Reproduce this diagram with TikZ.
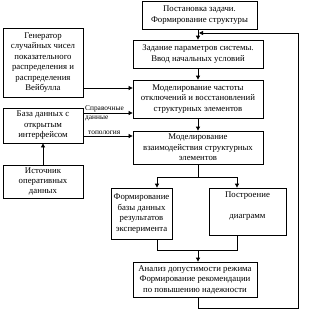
\documentclass[tikz,border=0pt]{standalone}
\usepackage{fontspec}
\setmainfont{Liberation Serif}
\usetikzlibrary{arrows.meta}
\begin{document}
\begin{tikzpicture}[x=1bp,y=-1bp,
  box/.style={draw,line width=0.8bp,inner sep=0pt,align=center,font=\fontsize{8.8}{10.5}\selectfont},
  arr/.style={line width=0.8bp,-{Triangle[length=4bp,width=4bp]}},
  ln/.style={line width=0.8bp},
  lbl/.style={font=\fontsize{7.4}{9}\selectfont,inner sep=0pt,align=left,anchor=west}]
\useasboundingbox (0,0) rectangle (310,315);
\node[box,minimum width=115bp,minimum height=28bp] (b1) at (199.5,15) {Постановка задачи.\\Формирование структуры};
\node[box,minimum width=130bp,minimum height=28bp] (b2) at (198,54) {Задание параметров системы.\\Ввод начальных условий};
\node[box,minimum width=130bp,minimum height=38bp] (b3) at (198,99) {Моделирование частоты\\отключений и восстановлений\\структурных элементов};
\node[box,minimum width=130bp,minimum height=33bp] (b4) at (198,147.5) {Моделирование\\взаимодействия структурных\\элементов};
\node[box,minimum width=61bp,minimum height=51bp] (b5) at (141.5,213.5) {Формирование\\базы данных\\результатов\\эксперимента};
\node[box,minimum width=77bp,minimum height=47bp] (b6) at (247.5,211.5) {\strut Построение\\\strut\\диаграмм\\\strut};
\node[box,minimum width=124bp,minimum height=35bp] (b7) at (195,279.5) {Анализ допустимости режима\\Формирование рекомендации\\по повышению надежности};
\node[box,minimum width=80bp,minimum height=69bp] (gen) at (43,62.5) {Генератор\\случайных чисел\\показательного\\распределения и\\распределения\\Вейбулла};
\node[box,minimum width=80bp,minimum height=35bp] (db) at (43,125.5) {База данных с\\открытым\\интерфейсом};
\node[box,minimum width=80bp,minimum height=33bp] (src) at (43,181.5) {Источник\\оперативных\\данных};
% coordinates
\coordinate (y88) at (0,88);
\coordinate (y113) at (0,113);
\coordinate (y136) at (0,136);
\coordinate (br) at (198,177);
\coordinate (brL) at (157,177);
\coordinate (brR) at (237,177);
\coordinate (jL) at (157,250);
\coordinate (jC) at (198,250);
\coordinate (jR) at (237,250);
\coordinate (loopA) at (198,308);
\coordinate (loopB) at (298,33);
\coordinate (loopEnd) at (199,33);
% main flow
\draw[arr] (b1.south -| b2.north) -- (b2.north);
\draw[arr] (b2.south) -- (b3.north);
\draw[arr] (b3.south) -- (b4.north);
\draw[ln] (b4.south) -- (br);
\draw[ln] (brL) -- (brR);
\draw[arr] (brL) -- (brL |- b5.north);
\draw[arr] (brR) -- (brR |- b6.north);
\draw[ln] (brL |- b5.south) -- (jL) -- (jR) -- (jR |- b6.south);
\draw[arr] (jC) -- (jC |- b7.north);
\draw[arr] (b7.south -| loopA) -- (loopA) -| (loopB) -- (loopEnd);
% left inputs
\draw[arr] (gen.east |- y88) -- (b3.west |- y88);
\draw[arr] (db.east |- y113) -- (b3.west |- y113);
\draw[arr] (db.east |- y136) -- (b4.west |- y136);
\draw[arr] (src.north) -- (db.south);
\node[lbl] (l1) at (85,113.5) {Справочные\\данные};
\node[lbl,anchor=south west] (l2) at (88,134.5) {топология};
\end{tikzpicture}
\end{document}
